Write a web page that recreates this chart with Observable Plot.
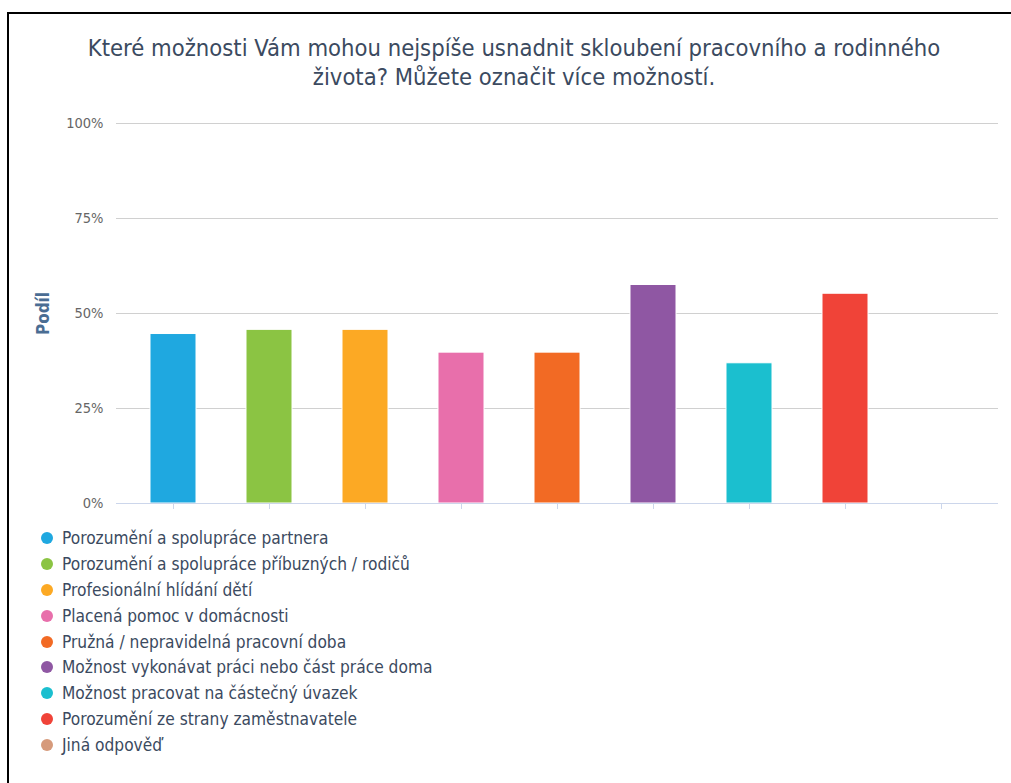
<!DOCTYPE html>
<html>
<head>
<meta charset="utf-8">
<script src="https://cdn.jsdelivr.net/npm/d3@7"></script>
<script src="https://cdn.jsdelivr.net/npm/@observablehq/plot@0.6"></script>
<style>
  html, body { margin: 0; padding: 0; background: #fff; overflow: hidden; }
  body { width: 1011px; height: 783px; position: relative; font-family: "DejaVu Sans Condensed", "DejaVu Sans", sans-serif; font-stretch: condensed; }
  #frame { position: absolute; left: 7px; top: 12px; width: 1100px; height: 900px; border-left: 2px solid #000; border-top: 2px solid #000; }
  #title { position: absolute; left: 8px; top: 34px; width: 1012px; text-align: center; font-size: 23.6px; line-height: 29px; color: #3b4a60; }
  #chart { position: absolute; left: 0; top: 100px; }
  #legend { position: absolute; left: 41px; top: 525px; font-size: 17.2px; color: #3b4a60; }
  .item { height: 25.9px; display: flex; align-items: center; white-space: nowrap; }
  .dot { width: 12px; height: 12px; border-radius: 50%; margin-right: 9px; flex: none; }
</style>
</head>
<body>
<div id="frame"></div>
<div id="title">Které možnosti Vám mohou nejspíše usnadnit skloubení pracovního a rodinného<br>života? Můžete označit více možností.</div>
<div id="chart"></div>
<div id="legend"></div>
<script>
const categories = [
  "Porozumění a spolupráce partnera",
  "Porozumění a spolupráce příbuzných / rodičů",
  "Profesionální hlídání dětí",
  "Placená pomoc v domácnosti",
  "Pružná / nepravidelná pracovní doba",
  "Možnost vykonávat práci nebo část práce doma",
  "Možnost pracovat na částečný úvazek",
  "Porozumění ze strany zaměstnavatele",
  "Jiná odpověď"
];
const values = [44.6, 45.7, 45.7, 39.7, 39.7, 57.5, 36.9, 55.2, 0];
const colors = ["#1fa8e0", "#8bc443", "#fca924", "#e86fab", "#f26a24", "#8f57a3", "#1bbfcf", "#f04338", "#d69a7b"];
const yTicks = [0, 25, 50, 75, 100];
const yTitle = "Podíl";

const data = categories.map((c, i) => ({category: c, value: values[i], color: colors[i]}));

const chart = Plot.plot({
  width: 1011,
  height: 420,
  marginLeft: 116,
  marginRight: 13,
  marginTop: 23,
  marginBottom: 17,
  style: {fontFamily: "'DejaVu Sans Condensed', 'DejaVu Sans', sans-serif", fontStretch: "condensed", background: "transparent"},
  x: {domain: categories, paddingInner: 0.522, paddingOuter: 0.343, axis: null},
  y: {domain: [0, 100], axis: null},
  marks: [
    Plot.gridY(yTicks.filter(d => d > 0), {stroke: "#d0d0d0", strokeOpacity: 1, strokeWidth: 1}),
    Plot.barY(data, {x: "category", y: "value", fill: "color", stroke: "#ffffff", strokeWidth: 1}),
    Plot.ruleY([0], {stroke: "#ccd6eb", strokeWidth: 1}),
    Plot.axisX({tickSize: 6, stroke: "#ccd6eb", tickFormat: () => "", label: null}),
    Plot.axisY({ticks: yTicks, tickSize: 0, tickPadding: 13, tickFormat: d => d + "%", fill: "#666666", fontSize: 14.5, label: null}),
    Plot.text([yTitle], {frameAnchor: "left", textAnchor: "middle", dx: -73, rotate: -90, fill: "#4a6d93", fontWeight: "bold", fontSize: 17})
  ]
});
document.getElementById("chart").appendChild(chart);

const legend = document.getElementById("legend");
categories.forEach((c, i) => {
  const item = document.createElement("div");
  item.className = "item";
  const dot = document.createElement("span");
  dot.className = "dot";
  dot.style.background = colors[i];
  const label = document.createElement("span");
  label.textContent = c;
  item.appendChild(dot);
  item.appendChild(label);
  legend.appendChild(item);
});
</script>
</body>
</html>
